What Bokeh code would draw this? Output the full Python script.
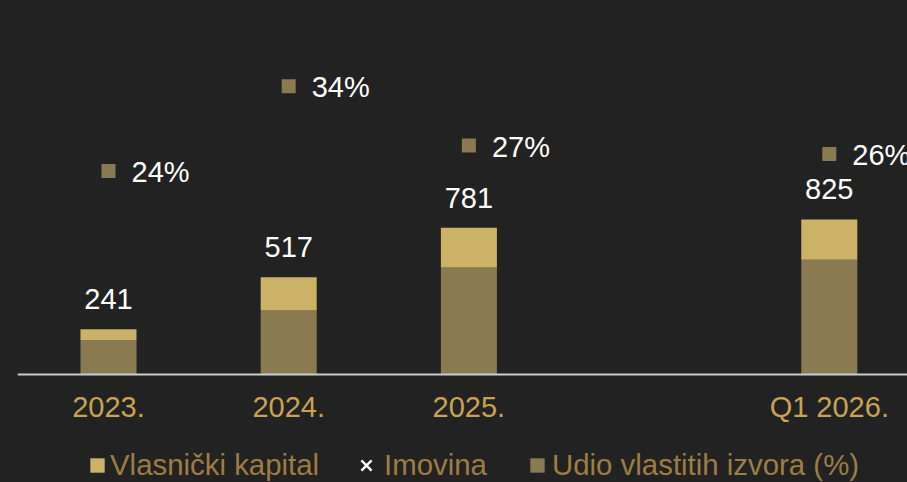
from bokeh.plotting import figure
from bokeh.models import Range1d, FixedTicker, ColumnDataSource, Legend, LegendItem
from bokeh.core.properties import value
from bokeh.embed import file_html
from bokeh.resources import INLINE

# ---- data ----
slots = ["2023.", "2024.", "2025.", "", "Q1 2026."]       # axis slots (one empty gap)
categories = ["2023.", "2024.", "2025.", "Q1 2026."]
imovina = [241, 517, 781, 825]                              # total assets
kapital = [58, 176, 211, 215]                               # equity
udio = [24, 34, 27, 26]                                     # equity share (%)

FONT = "Liberation Sans"
BG = "#222222"
GOLD_LIGHT = "#cbb266"
OLIVE = "#8a7a52"
AXIS_GOLD = "#c9a253"
LEGEND_GOLD = "#9c7d45"

x = [slots.index(c) for c in categories]
rest = [a - k for a, k in zip(imovina, kapital)]
src = ColumnDataSource(dict(
    x=x, cat=categories, imovina=imovina, kapital=kapital, rest=rest,
    udio=udio, udio_lbl=[f"{u}%" for u in udio], imov_lbl=[str(v) for v in imovina],
))

W, H = 907, 482
p = figure(width=W, height=H, output_backend="svg", toolbar_location=None,
           x_range=Range1d(-0.505, 4.434), y_range=Range1d(-574.6, 1990),
           min_border_left=17, min_border_right=0, min_border_top=0, min_border_bottom=0,
           background_fill_color=BG, border_fill_color=BG, outline_line_color=None)
p.styles = {"background-color": BG}
p.extra_y_ranges = {"pct": Range1d(-12.74, 44.1)}
p.xgrid.visible = False
p.ygrid.visible = False
p.yaxis.visible = False

r_rest = p.vbar(x="x", width=0.311, bottom=0, top="rest", source=src,
                fill_color=OLIVE, line_color=None)
r_kap = p.vbar(x="x", width=0.311, bottom="rest", top="imovina", source=src,
               fill_color=GOLD_LIGHT, line_color=None)
# Imovina series: invisible x markers on the chart (size 0), shown only in the legend
r_imov = p.scatter(x="x", y="imovina", source=src, marker="x", size=0,
                   line_color="white", line_width=2.4)
p.text(x="x", y="imovina", text="imov_lbl", source=src, text_align="center",
       text_baseline="alphabetic", y_offset=-30, text_color="white",
       text_font=value(FONT), text_font_size="29px")

r_pct = p.scatter(x="x", y="udio", source=src, y_range_name="pct", marker="square",
                  size=14, fill_color=OLIVE, line_color=None)
p.text(x="x", y="udio", text="udio_lbl", source=src, y_range_name="pct",
       text_align="left", text_baseline="middle", x_offset=23, y_offset=1,
       text_color="white", text_font=value(FONT), text_font_size="29px")

ax = p.xaxis[0]
ax.fixed_location = 0
ax.ticker = FixedTicker(ticks=x)
ax.major_label_overrides = {xi: c for xi, c in zip(x, categories)}
ax.axis_line_color = "#cccccc"
ax.axis_line_width = 2
ax.major_tick_line_color = None
ax.minor_tick_line_color = None
ax.major_label_standoff = 10
ax.major_label_text_color = AXIS_GOLD
ax.major_label_text_font = FONT
ax.major_label_text_font_size = "29px"

common = dict(orientation="horizontal", padding=0, margin=0,
              label_text_color=LEGEND_GOLD, label_text_font=FONT,
              label_text_font_size="29.4px", border_line_alpha=0,
              background_fill_alpha=0)
leg1 = Legend(items=[LegendItem(label="Vlasnički kapital", renderers=[r_kap])],
              location=(71, 0), glyph_width=18, glyph_height=18, label_standoff=4, **common)
leg2 = Legend(items=[LegendItem(label="Imovina", renderers=[r_imov])],
              location=(331, -1), glyph_width=36, glyph_height=36, label_standoff=0, **common)
leg3 = Legend(items=[LegendItem(label="Udio vlastitih izvora (%)", renderers=[r_rest])],
              location=(511, 0), glyph_width=18, glyph_height=18, label_standoff=6, **common)
for lg in (leg1, leg2, leg3):
    p.add_layout(lg, "center")

open("out.html", "w").write(file_html(p, INLINE))
